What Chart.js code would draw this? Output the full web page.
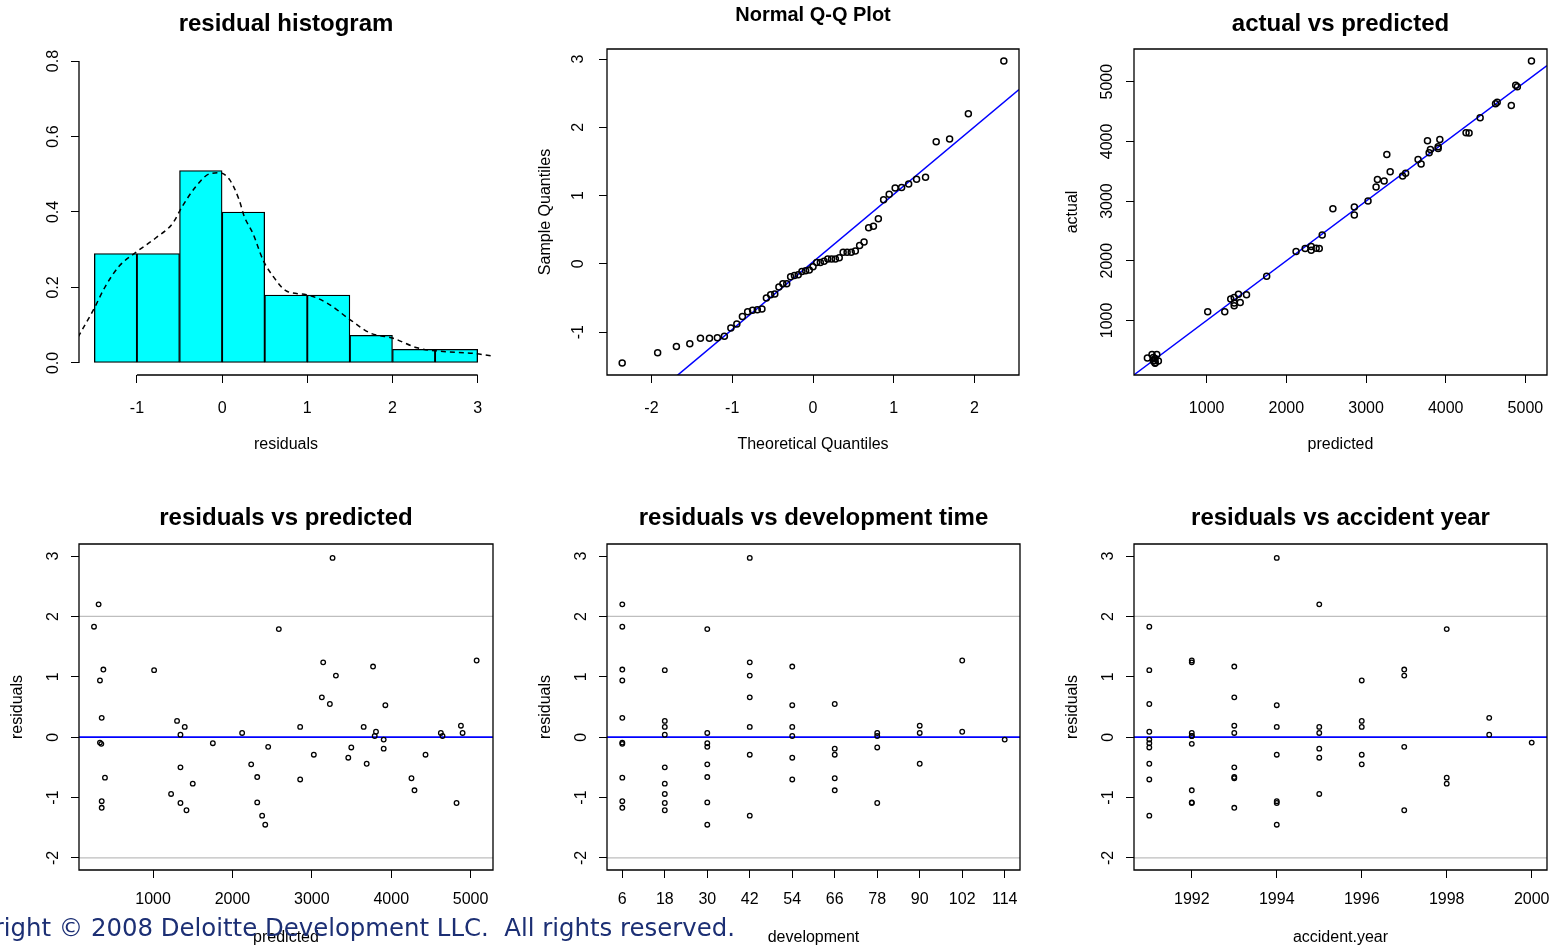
<!DOCTYPE html>
<html>
<head>
<meta charset="utf-8">
<script src="https://cdn.jsdelivr.net/npm/chart.js@4.4.1/dist/chart.umd.min.js"></script>
<style>
html, body { margin: 0; padding: 0; background: #fff; width: 1553px; height: 948px; overflow: hidden; position: relative; }
canvas { position: absolute; }
#copy { position: absolute; left: 735px; top: 916px; transform: translateX(-100%); font-family: "DejaVu Sans", sans-serif; font-size: 24.4px; line-height: 24px; color: #1c2f74; white-space: pre; }
</style>
</head>
<body>
<canvas id="hist" width="574" height="457" style="left:-1px;top:0px"></canvas>
<canvas id="qq" width="572" height="457" style="left:527px;top:0px"></canvas>
<canvas id="avp" width="573" height="457" style="left:1054px;top:0px"></canvas>
<canvas id="rvp" width="574" height="458" style="left:-1px;top:490px"></canvas>
<canvas id="rvd" width="573" height="458" style="left:527px;top:490px"></canvas>
<canvas id="rvay" width="573" height="458" style="left:1054px;top:490px"></canvas>
<div id="copy">Copyright © 2008 Deloitte Development LLC.  All rights reserved.</div>
<script>
// one row per cell of the triangle: accident year, development month
var accidentYear = [
  1991, 1991, 1991, 1991, 1991, 1991, 1991, 1991, 1991, 1991,
  1992, 1992, 1992, 1992, 1992, 1992, 1992, 1992, 1992,
  1993, 1993, 1993, 1993, 1993, 1993, 1993, 1993,
  1994, 1994, 1994, 1994, 1994, 1994, 1994,
  1995, 1995, 1995, 1995, 1995, 1995,
  1996, 1996, 1996, 1996, 1996,
  1997, 1997, 1997, 1997,
  1998, 1998, 1998,
  1999, 1999,
  2000
];
var development = [
  6, 18, 30, 42, 54, 66, 78, 90, 102, 114,
  6, 18, 30, 42, 54, 66, 78, 90, 102,
  6, 18, 30, 42, 54, 66, 78, 90,
  6, 18, 30, 42, 54, 66, 78,
  6, 18, 30, 42, 54, 66,
  6, 18, 30, 42, 54,
  6, 18, 30, 42,
  6, 18, 30,
  6, 18,
  6
];
var predicted = [
  256, 1013, 1753, 2374, 2853, 3227, 3497, 3691, 3808, 3905,
  348, 1345, 2312, 3143, 3792, 4293, 4646, 4899, 5076,
  353, 1345, 2312, 3126, 3771, 4255, 4625, 4878,
  353, 1399, 2413, 3261, 3926, 4432, 4823,
  314, 1227, 2122, 2853, 3459, 3905,
  331, 1302, 2236, 3025, 3653,
  374, 1421, 2450, 3303,
  394, 1500, 2584,
  353, 1345,
  331
];
var actual = [
  370, 1145, 1741, 2210, 2767, 3336, 3464, 3620, 3865, 3910,
  330, 1245, 2176, 3363, 3809, 4140, 4657, 4915, 5348,
  280, 1290, 2237, 3235, 4010, 4144, 4629, 4941,
  290, 1440, 2204, 3782, 4032, 4395, 4601,
  430, 1145, 2154, 2901, 3419, 3882,
  380, 1357, 2204, 3001, 3698,
  430, 1301, 2433, 3492,
  320, 1429, 2873,
  360, 1385,
  318
];
var residuals = [
  1.83, 1.11, -0.10, -1.30, -0.70, 0.55, -0.17, -0.44, 0.09, -0.04,
  -0.11, -1.09, -1.08, 1.24, 0.02, -0.88, 0.02, 0.07, 1.27,
  -1.17, -0.50, -0.66, 0.66, 1.17, -0.68, 0.07, 0.19,
  -1.06, 0.17, -1.45, 2.97, 0.53, -0.29, -1.09,
  2.20, -0.94, 0.07, 0.17, -0.34, -0.19,
  0.94, 0.27, -0.45, -0.29, 0.17,
  1.12, -1.21, -0.16, 1.02,
  -0.67, -0.77, 1.79,
  0.32, 0.04,
  -0.09
];

// histogram bins (mid points) and densities
var histMids = [-1.25, -0.75, -0.25, 0.25, 0.75, 1.25, 1.75, 2.25, 2.75];
var histDensity = [0.29, 0.29, 0.51, 0.40, 0.18, 0.18, 0.073, 0.036, 0.036];
// kernel density curve
var densX = [-1.69, -1.51, -1.37, -1.21, -1.00, -0.78, -0.58, -0.47, -0.31, -0.15, -0.03, 0.09, 0.20, 0.26, 0.36, 0.48, 0.60, 0.76, 0.99, 1.23, 1.50, 1.74, 2.00, 2.29, 2.56, 2.96, 3.19];
var densY = [0.069, 0.141, 0.203, 0.256, 0.295, 0.331, 0.370, 0.414, 0.467, 0.501, 0.504, 0.485, 0.432, 0.388, 0.344, 0.273, 0.229, 0.190, 0.181, 0.159, 0.115, 0.079, 0.066, 0.040, 0.031, 0.025, 0.018];

// normal quantiles for n = 55
var qqTheoretical = [
  -2.362, -1.923, -1.691, -1.525, -1.393, -1.282, -1.184, -1.097, -1.017, -0.943,
  -0.874, -0.809, -0.748, -0.689, -0.632, -0.577, -0.524, -0.473, -0.422, -0.373,
  -0.325, -0.277, -0.230, -0.183, -0.137, -0.091, -0.046, 0,
  0.046, 0.091, 0.137, 0.183, 0.230, 0.277, 0.325, 0.373, 0.422, 0.473,
  0.524, 0.577, 0.632, 0.689, 0.748, 0.809, 0.874, 0.943, 1.017, 1.097,
  1.184, 1.282, 1.393, 1.525, 1.691, 1.923, 2.362
];
var qqIntercept = 0.03;
var qqSlope = 0.99;
var refLevels = [-2, 2];

// tick labels
var histXTicks = [-1, 0, 1, 2, 3];
var histYTicks = [0, 0.2, 0.4, 0.6, 0.8];
var qqXTicks = [-2, -1, 0, 1, 2];
var qqYTicks = [-1, 0, 1, 2, 3];
var amountTicks = [1000, 2000, 3000, 4000, 5000];
var residTicks = [-2, -1, 0, 1, 2, 3];
var devTicks = [6, 18, 30, 42, 54, 66, 78, 90, 102, 114];
var yearTicks = [1992, 1994, 1996, 1998, 2000];

// axis limits
var histXLim = [-1.68, 3.18], histYLim = [-0.032, 0.832];
var qqXLim = [-2.55, 2.55], qqYLim = [-1.627, 3.147];
var avpXLim = [88, 5271], avpYLim = [85, 5548];
var rvpXLim = [67, 5282], rvdXLim = [1.68, 118.32], rvayXLim = [1990.64, 2000.36];
var residYLim = [-2.2, 3.2];

Chart.defaults.font.family = '"Liberation Sans", Arial, sans-serif';
Chart.defaults.font.size = 16;
Chart.defaults.color = '#000';
Chart.defaults.animation = false;

var rFrame = {
  id: 'rFrame',
  afterDatasetsDraw: function (chart, args, opts) {
    var a = chart.chartArea, ctx = chart.ctx;
    ctx.save();
    ctx.strokeStyle = '#000';
    ctx.lineWidth = 1.3;
    ctx.beginPath();
    if (opts.box) {
      ctx.rect(a.left, a.top, a.right - a.left, a.bottom - a.top);
    } else {
      var x = chart.scales.x, y = chart.scales.y;
      var xt = x.ticks, yt = y.ticks;
      ctx.moveTo(x.getPixelForValue(xt[0].value), a.bottom);
      ctx.lineTo(x.getPixelForValue(xt[xt.length - 1].value), a.bottom);
      ctx.moveTo(a.left, y.getPixelForValue(yt[0].value));
      ctx.lineTo(a.left, y.getPixelForValue(yt[yt.length - 1].value));
    }
    ctx.stroke();
    ctx.restore();
  }
};

function fixedTicks(values) {
  return function (s) {
    s.ticks = values.map(function (v) { return { value: v }; });
  };
}

function plain(v) { return String(v); }

function makeScales(p) {
  return {
    x: {
      type: 'linear', position: 'bottom', bounds: 'data', offset: false,
      min: p.xLim[0], max: p.xLim[1],
      afterBuildTicks: fixedTicks(p.xTicks),
      afterFit: function (s) { s.height = p.xAxisHeight; },
      border: { display: false },
      grid: { drawOnChartArea: false, drawTicks: true, tickLength: 8, color: '#000', lineWidth: 1, offset: false },
      ticks: { padding: p.xPad, minRotation: 0, maxRotation: 0, autoSkip: false, callback: plain },
      title: { display: true, text: p.xTitle, padding: { top: 0, bottom: p.xTitlePad } }
    },
    y: {
      type: 'linear', position: 'left', bounds: 'data',
      min: p.yLim[0], max: p.yLim[1],
      afterBuildTicks: fixedTicks(p.yTicks),
      afterFit: function (s) { s.width = 80; },
      border: { display: false },
      grid: { drawOnChartArea: false, drawTicks: true, tickLength: 8, color: '#000', lineWidth: 1 },
      ticks: { padding: p.yPad, minRotation: 90, maxRotation: 90, crossAlign: 'center', autoSkip: false, callback: p.yFormat || plain },
      title: { display: !!p.yTitle, text: p.yTitle || '', padding: { top: 9.4, bottom: 0 } }
    },
    yr: {
      type: 'linear', position: 'right', display: true,
      afterFit: function (s) { s.width = 80; },
      border: { display: false },
      grid: { display: false },
      ticks: { display: false }
    }
  };
}

function makePlugins(title, size, padTop, padBottom, box) {
  return {
    legend: { display: false },
    tooltip: { enabled: false },
    title: { display: true, text: title, color: '#000', font: { size: size, weight: 'bold' }, padding: { top: padTop, bottom: padBottom } },
    rFrame: { box: box }
  };
}

function pointsOf(xs, ys) {
  return xs.map(function (x, i) { return { x: x, y: ys[i] }; });
}

function hLine(level, xLim, color, width) {
  return {
    type: 'line',
    data: [{ x: xLim[0], y: level }, { x: xLim[1], y: level }],
    borderColor: color, borderWidth: width, pointRadius: 0, fill: false
  };
}

function circles(data, r, w) {
  return {
    type: 'scatter',
    data: data,
    pointRadius: r, pointBorderWidth: w,
    pointBorderColor: '#000', pointBackgroundColor: 'rgba(0,0,0,0)',
    borderColor: '#000', showLine: false
  };
}

// ---- residual histogram
new Chart(document.getElementById('hist').getContext('2d'), {
  type: 'bar',
  data: {
    datasets: [
      {
        type: 'line',
        data: pointsOf(densX, densY),
        borderColor: '#000', borderWidth: 1.5, borderDash: [5, 4],
        pointRadius: 0, fill: false, cubicInterpolationMode: 'monotone'
      },
      {
        type: 'bar',
        data: pointsOf(histMids, histDensity),
        backgroundColor: '#00ffff', borderColor: '#000', borderWidth: 1.3,
        borderSkipped: false, barPercentage: 1, categoryPercentage: 1
      }
    ]
  },
  options: {
    responsive: false,
    layout: { padding: 0 },
    scales: makeScales({
      xLim: histXLim, xTicks: histXTicks, xAxisHeight: 82, xPad: 16.4, xTitle: 'residuals', xTitlePad: 2.4,
      yLim: histYLim, yTicks: histYTicks, yPad: 5.9, yFormat: function (v) { return v.toFixed(1); }
    }),
    plugins: makePlugins('residual histogram', 24, 9.6, 10.6, false)
  },
  plugins: [rFrame]
});

// ---- normal Q-Q plot
var sampleQuantiles = residuals.slice().sort(function (a, b) { return a - b; });
new Chart(document.getElementById('qq').getContext('2d'), {
  type: 'scatter',
  data: {
    datasets: [
      circles(pointsOf(qqTheoretical, sampleQuantiles), 3, 1.5),
      {
        type: 'line',
        data: [
          { x: qqXLim[0], y: qqIntercept + qqSlope * qqXLim[0] },
          { x: qqXLim[1], y: qqIntercept + qqSlope * qqXLim[1] }
        ],
        borderColor: '#0000ff', borderWidth: 1.5, pointRadius: 0, fill: false
      }
    ]
  },
  options: {
    responsive: false,
    layout: { padding: 0 },
    scales: makeScales({
      xLim: qqXLim, xTicks: qqXTicks, xAxisHeight: 82, xPad: 16.4, xTitle: 'Theoretical Quantiles', xTitlePad: 2.4,
      yLim: qqYLim, yTicks: qqYTicks, yPad: 12.9, yTitle: 'Sample Quantiles'
    }),
    plugins: makePlugins('Normal Q-Q Plot', 20, 3.5, 21.5, true)
  },
  plugins: [rFrame]
});

// ---- actual vs predicted
new Chart(document.getElementById('avp').getContext('2d'), {
  type: 'scatter',
  data: {
    datasets: [
      circles(pointsOf(predicted, actual), 3, 1.5),
      {
        type: 'line',
        data: [{ x: avpXLim[0], y: avpXLim[0] }, { x: avpXLim[1], y: avpXLim[1] }],
        borderColor: '#0000ff', borderWidth: 1.5, pointRadius: 0, fill: false
      }
    ]
  },
  options: {
    responsive: false,
    layout: { padding: 0 },
    scales: makeScales({
      xLim: avpXLim, xTicks: amountTicks, xAxisHeight: 82, xPad: 16.4, xTitle: 'predicted', xTitlePad: 2.4,
      yLim: avpYLim, yTicks: amountTicks, yPad: 1, yTitle: 'actual'
    }),
    plugins: makePlugins('actual vs predicted', 24, 9.6, 10.6, true)
  },
  plugins: [rFrame]
});

// ---- bottom row: residuals against three variables
function residualPanel(id, title, xs, xLim, xTicks, xTitle) {
  new Chart(document.getElementById(id).getContext('2d'), {
    type: 'scatter',
    data: {
      datasets: [
        circles(pointsOf(xs, residuals), 2.3, 1.3),
        hLine(0, xLim, '#0000ff', 1.7),
        hLine(refLevels[0], xLim, '#bebebe', 1.3),
        hLine(refLevels[1], xLim, '#bebebe', 1.3)
      ]
    },
    options: {
      responsive: false,
      layout: { padding: 0 },
      scales: makeScales({
        xLim: xLim, xTicks: xTicks, xAxisHeight: 78, xPad: 12.4, xTitle: xTitle, xTitlePad: 0.4,
        yLim: residYLim, yTicks: residTicks, yPad: 10.4, yTitle: 'residuals'
      }),
      plugins: makePlugins(title, 24, 14.1, 11.1, true)
    },
    plugins: [rFrame]
  });
}

residualPanel('rvp', 'residuals vs predicted', predicted, rvpXLim, amountTicks, 'predicted');
residualPanel('rvd', 'residuals vs development time', development, rvdXLim, devTicks, 'development');
residualPanel('rvay', 'residuals vs accident year', accidentYear, rvayXLim, yearTicks, 'accident.year');
</script>
</body>
</html>
